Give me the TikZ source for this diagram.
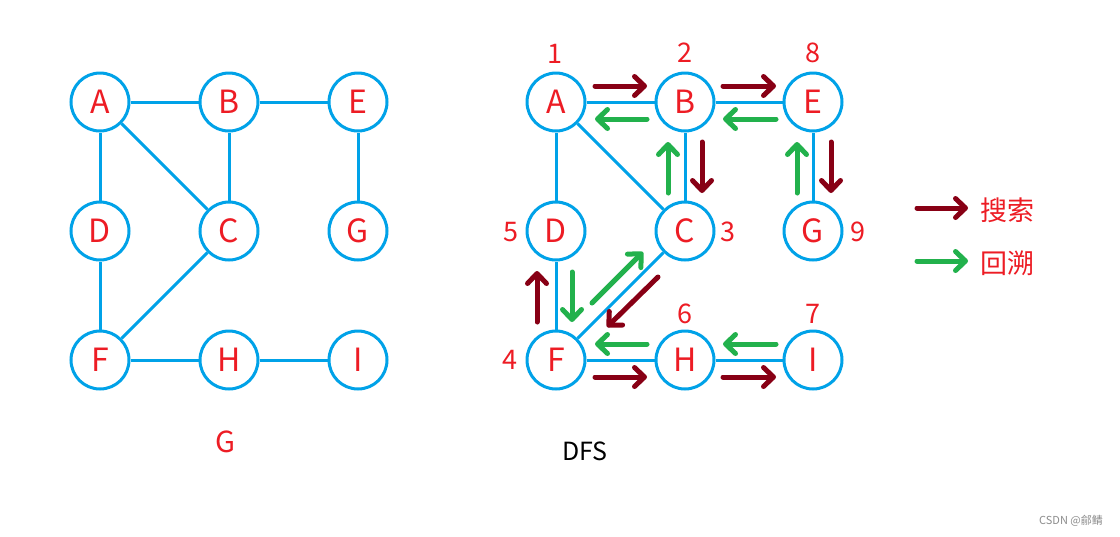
\documentclass[tikz,border=0pt]{standalone}
\usepackage{fontspec}
\setmainfont{Noto Sans CJK SC}
\usetikzlibrary{arrows.meta}
\definecolor{eblue}{HTML}{00A2E8}
\definecolor{vred}{HTML}{ED1C24}
\definecolor{dred}{HTML}{880015}
\definecolor{dgreen}{HTML}{22B14C}
\begin{document}
\begin{tikzpicture}[x=1pt,y=-1pt,
  vtx/.style={circle,draw=eblue,line width=3pt,minimum size=58pt,inner sep=0pt,text=vred,font=\fontsize{32}{32}\selectfont},
  edge/.style={draw=eblue,line width=3pt},
  num/.style={text=vred,font=\fontsize{27}{27}\selectfont,inner sep=0pt},
  fwd/.style={draw=dred,line width=5pt,line cap=round,-{Straight Barb[length=10pt,width=19pt,round]}},
  bwd/.style={draw=dgreen,line width=5pt,line cap=round,-{Straight Barb[length=10pt,width=19pt,round]}}]
\useasboundingbox[fill=white] (0,0) rectangle (1120,536);

% ---------- left graph G ----------
\node[vtx] (lA) at (100,102) {A};
\node[vtx] (lB) at (229,102) {B};
\node[vtx] (lE) at (358,102) {E};
\node[vtx] (lD) at (100,231) {D};
\node[vtx] (lC) at (229,231) {C};
\node[vtx] (lG) at (358,231) {G};
\node[vtx] (lF) at (100,360) {F};
\node[vtx] (lH) at (229,360) {H};
\node[vtx] (lI) at (358,360) {I};
\draw[edge] (lA) -- (lB);
\draw[edge] (lB) -- (lE);
\draw[edge] (lA) -- (lD);
\draw[edge] (lA) -- (lC);
\draw[edge] (lB) -- (lC);
\draw[edge] (lE) -- (lG);
\draw[edge] (lD) -- (lF);
\draw[edge] (lC) -- (lF);
\draw[edge] (lF) -- (lH);
\draw[edge] (lH) -- (lI);
\node[text=vred,font=\fontsize{29}{29}\selectfont,inner sep=0pt] (lbG) at (225,442) {G};

% ---------- right graph DFS ----------
\node[vtx] (A) at (556,102) {A};
\node[vtx] (B) at (685,102) {B};
\node[vtx] (E) at (813,102) {E};
\node[vtx] (D) at (556,231) {D};
\node[vtx] (C) at (685,231) {C};
\node[vtx] (G) at (813,231) {G};
\node[vtx] (F) at (556,360) {F};
\node[vtx] (H) at (685,360) {H};
\node[vtx] (I) at (813,360) {I};
\draw[edge] (A) -- (B);
\draw[edge] (B) -- (E);
\draw[edge] (A) -- (D);
\draw[edge] (A) -- (C);
\draw[edge] (B) -- (C);
\draw[edge] (E) -- (G);
\draw[edge] (D) -- (F);
\draw[edge] (C) -- (F);
\draw[edge] (F) -- (H);
\draw[edge] (H) -- (I);

\node[num] (n1) at (555,54) {1};
\node[num] (n2) at (685,53) {2};
\node[num] (n8) at (813,53) {8};
\node[num] (n5) at (511,232) {5};
\node[num] (n3) at (728,232) {3};
\node[num] (n9) at (858,232) {9};
\node[num] (n4) at (510,360) {4};
\node[num] (n6) at (685,314) {6};
\node[num] (n7) at (813,314) {7};

\node[text=black,font=\fontsize{25}{25}\selectfont,inner sep=0pt] (dfs) at (585,451) {DFS};

% arrow end points
\coordinate (ab1) at (595,86);  \coordinate (ab2) at (647,86);
\coordinate (ba1) at (647,119); \coordinate (ba2) at (595,119);
\coordinate (be1) at (723,86);  \coordinate (be2) at (776,86);
\coordinate (eb1) at (776,119); \coordinate (eb2) at (723,119);
\coordinate (bc1) at (702,142); \coordinate (bc2) at (702,193);
\coordinate (cb1) at (668,193); \coordinate (cb2) at (668,142);
\coordinate (eg1) at (831,142); \coordinate (eg2) at (831,193);
\coordinate (ge1) at (797,193); \coordinate (ge2) at (797,142);
\coordinate (fd1) at (537,322); \coordinate (fd2) at (537,271);
\coordinate (df1) at (572,272); \coordinate (df2) at (572,322);
\coordinate (fc1) at (592,303); \coordinate (fc2) at (643,252);
\coordinate (cf1) at (658,277); \coordinate (cf2) at (607,327);
\coordinate (hf1) at (647,344); \coordinate (hf2) at (595,344);
\coordinate (fh1) at (595,377); \coordinate (fh2) at (647,377);
\coordinate (ih1) at (776,344); \coordinate (ih2) at (723,344);
\coordinate (hi1) at (723,377); \coordinate (hi2) at (776,377);

\draw[fwd] (ab1) -- (ab2);
\draw[bwd] (ba1) -- (ba2);
\draw[fwd] (be1) -- (be2);
\draw[bwd] (eb1) -- (eb2);
\draw[fwd] (bc1) -- (bc2);
\draw[bwd] (cb1) -- (cb2);
\draw[fwd] (eg1) -- (eg2);
\draw[bwd] (ge1) -- (ge2);
\draw[fwd] (fd1) -- (fd2);
\draw[bwd] (df1) -- (df2);
\draw[bwd] (fc1) -- (fc2);
\draw[fwd] (cf1) -- (cf2);
\draw[bwd] (hf1) -- (hf2);
\draw[fwd] (fh1) -- (fh2);
\draw[bwd] (ih1) -- (ih2);
\draw[fwd] (hi1) -- (hi2);

% legend
\coordinate (lr1) at (917,208); \coordinate (lr2) at (968,208);
\coordinate (lg1) at (917,261); \coordinate (lg2) at (968,261);
\draw[fwd] (lr1) -- (lr2);
\draw[bwd] (lg1) -- (lg2);
\node[text=vred,font=\fontsize{27}{27}\selectfont,inner sep=0pt] (lt1) at (1007,210) {搜索};
\node[text=vred,font=\fontsize{27}{27}\selectfont,inner sep=0pt] (lt2) at (1007,263) {回溯};

\node[text=black!45,font=\fontsize{11}{11}\selectfont,inner sep=0pt] (wm) at (1071,521) {CSDN @鄃鲭};
\end{tikzpicture}
\end{document}
